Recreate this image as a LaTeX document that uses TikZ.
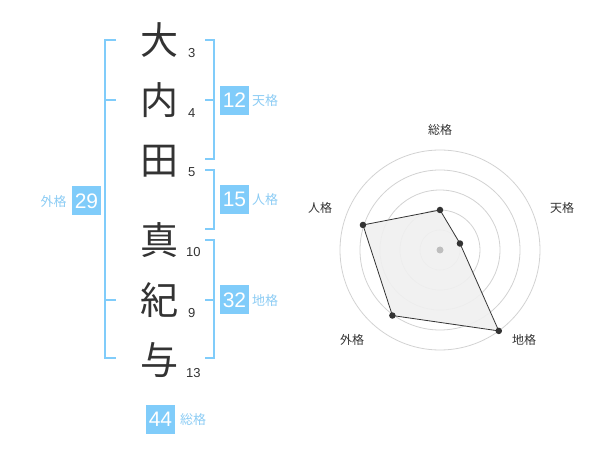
\documentclass[tikz,border=0pt]{standalone}
\usepackage{fontspec}
\setmainfont{Liberation Sans}
\newfontfamily\jpfont{Noto Sans CJK JP}

\begin{document}
\begin{tikzpicture}[x=1pt,y=-1pt,
	kanji/.style={font=\jpfont\fontsize{38}{38}\selectfont,text=kanjigray,inner sep=0pt},
	kakusu/.style={font=\fontsize{13}{13}\selectfont,text=kanjigray,inner sep=0pt,anchor=west},
	kakubox/.style={fill=kakublue,text=white,minimum width=29pt,minimum height=29pt,inner sep=0pt,font=\fontsize{21}{21}\selectfont},
	kakuname/.style={font=\jpfont\fontsize{13}{13}\selectfont,text=kakutext,inner sep=0pt},
	bracket/.style={draw=kakublue,line width=2pt},
	ring/.style={draw=ringgray,line width=0.8pt},
	axisname/.style={font=\jpfont\fontsize{12}{12}\selectfont,text=kanjigray,inner sep=0pt},
	dot/.style={circle,fill=kanjigray,minimum size=6.5pt,inner sep=0pt}]
		\definecolor{kakublue}{RGB}{128,204,250}
		\definecolor{kakutext}{RGB}{140,204,244}
		\definecolor{kanjigray}{RGB}{51,51,51}
		\definecolor{ringgray}{RGB}{210,210,210}
		\definecolor{areagray}{RGB}{240,240,240}
		\definecolor{centergray}{RGB}{190,190,190}

		\useasboundingbox (0,0) rectangle (600,470);

		% name
		\node[kanji] (k1) at (159,40) {大};
		\node[kanji] (k2) at (159,100) {内};
		\node[kanji] (k3) at (159,161) {田};
		\node[kanji] (k4) at (159,240) {真};
		\node[kanji] (k5) at (159,300) {紀};
		\node[kanji] (k6) at (159,360) {与};

		\node[kakusu] (s1) at (188,53) {3};
		\node[kakusu] (s2) at (188,113) {4};
		\node[kakusu] (s3) at (188,172) {5};
		\node[kakusu] (s4) at (186,252) {10};
		\node[kakusu] (s5) at (188,313) {9};
		\node[kakusu] (s6) at (186,373) {13};

		% brackets
		\draw[bracket] (116,40) -- (105,40) -- (105,358) -- (116,358);
		\draw[bracket] (105,100) -- (116,100);
		\draw[bracket] (105,300) -- (116,300);

		\draw[bracket] (205,40) -- (214,40) -- (214,159) -- (205,159);
		\draw[bracket] (214,100) -- (205,100);
		\draw[bracket] (205,170) -- (214,170) -- (214,229) -- (205,229);
		\draw[bracket] (205,240) -- (214,240) -- (214,358) -- (205,358);
		\draw[bracket] (214,300) -- (205,300);

		% results
		\node[kakubox] (ten) at (234.5,100.5) {12};
		\node[kakuname] (tenname) at (265,100.5) {天格};
		\node[kakubox] (jin) at (234.5,199.5) {15};
		\node[kakuname] (jinname) at (265,200) {人格};
		\node[kakubox] (chi) at (234.5,300) {32};
		\node[kakuname] (chiname) at (265,300.5) {地格};
		\node[kakubox] (gai) at (86.5,201) {29};
		\node[kakuname] (gainame) at (53.5,201.5) {外格};
		\node[kakubox] (so) at (160.5,419) {44};
		\node[kakuname] (soname) at (193,419.5) {総格};

		% chart
		\begin{scope}[shift={(440,250)},y=1pt]
			\foreach \r in {20,40,60,80,100}
				\draw[ring] (0,0) circle (\r pt);

			\coordinate (v1) at (90:40);
			\coordinate (v2) at (18:21);
			\coordinate (v3) at (-54:100);
			\coordinate (v4) at (234:81);
			\coordinate (v5) at (162:81);

			\draw[fill=areagray,fill opacity=0.9,draw=kanjigray,line width=0.8pt] (v1) -- (v2) -- (v3) -- (v4) -- (v5) -- cycle;

			\node[circle,fill=centergray,minimum size=7pt,inner sep=0pt] (mid) at (0,0) {};
			\node[dot] (d1) at (v1) {};
			\node[dot] (d2) at (v2) {};
			\node[dot] (d3) at (v3) {};
			\node[dot] (d4) at (v4) {};
			\node[dot] (d5) at (v5) {};

			\node[axisname] (a1) at (0,120) {総格};
			\node[axisname] (a2) at (122,42) {天格};
			\node[axisname] (a3) at (84,-90) {地格};
			\node[axisname] (a4) at (-88,-90) {外格};
			\node[axisname] (a5) at (-120,42) {人格};
		\end{scope}

\end{tikzpicture}
\end{document}
